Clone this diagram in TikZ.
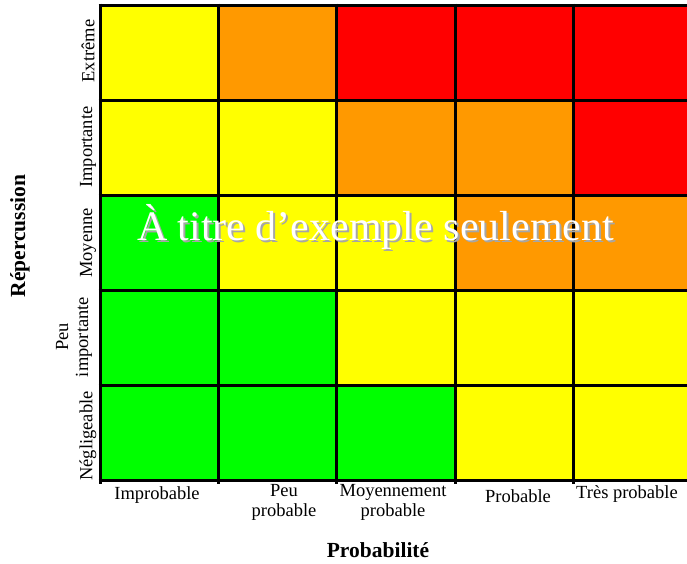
\documentclass[tikz,border=0pt]{standalone}
\usepackage{fontspec}
\setmainfont{Liberation Serif}
\definecolor{cY}{HTML}{FFFF00}
\definecolor{cO}{HTML}{FF9900}
\definecolor{cR}{HTML}{FF0000}
\definecolor{cG}{HTML}{00FF00}
\definecolor{shadowgray}{HTML}{A6A6A6}
\tikzset{
  cell/.style={fill=#1, draw=none, minimum width=118pt, minimum height=95pt, inner sep=0pt, anchor=north west},
  gridline/.style={line width=3pt, black},
  lab/.style={font=\fontsize{18.5}{20}\selectfont, align=center, inner sep=0pt},
  axis/.style={font=\fontsize{21.5}{23}\selectfont\bfseries, inner sep=0pt},
  wm/.style={font=\fontsize{42}{44}\selectfont, inner sep=0pt, anchor=base},
}
\newcommand{\wmtext}{À titre d’exemple seulement}
\begin{document}
\begin{tikzpicture}[x=1pt,y=-1pt]
\useasboundingbox (0,0) rectangle (687,563);
% cells
\foreach \r/\row in {0/{cY,cO,cR,cR,cR},1/{cY,cY,cO,cO,cR},2/{cG,cY,cY,cO,cO},3/{cG,cG,cY,cY,cY},4/{cG,cG,cG,cY,cY}}{
  \foreach \c [count=\i from 0] in \row {
    \node[cell=\c] (c\r\i) at ({100+118*\i},{5+95*\r}) {};
  }
}
% grid lines
\foreach \y in {5,100,195,290,385,480}{
  \draw[gridline] (98.5,\y) -- (692,\y);
}
\foreach \x in {100,218,336,455,573}{
  \draw[gridline] (\x,3.5) -- (\x,484);
}
% watermark (white text with grey shadow)
\node[wm] (wm) at (375.5,240) {\rlap{\hspace{2pt}\raisebox{-2pt}{\color{shadowgray}\wmtext}}\textcolor{white}{\wmtext}};
% column labels
\node[lab] (p1) at (157,495) {Improbable};
\node[lab] (p2) at (284,502) {Peu\\probable};
\node[lab] (p3) at (393,502) {Moyennement\\probable};
\node[lab] (p4) at (518,496) {Probable};
\node[lab] (p5) at (627,494) {Très probable};
% row labels
\node[lab, rotate=90] (r1) at (88,51) {Extrême};
\node[lab, rotate=90] (r2) at (88,147) {Importante};
\node[lab, rotate=90] (r3) at (88,243) {Moyenne};
\node[lab, rotate=90] (r4) at (74,337) {Peu\\importante};
\node[lab, rotate=90] (r5) at (88,436) {Négligeable};
% axis titles
\node[axis, rotate=90] (ty) at (20,236) {Répercussion};
\node[axis] (tx) at (378,550) {Probabilité};
\end{tikzpicture}
\end{document}
